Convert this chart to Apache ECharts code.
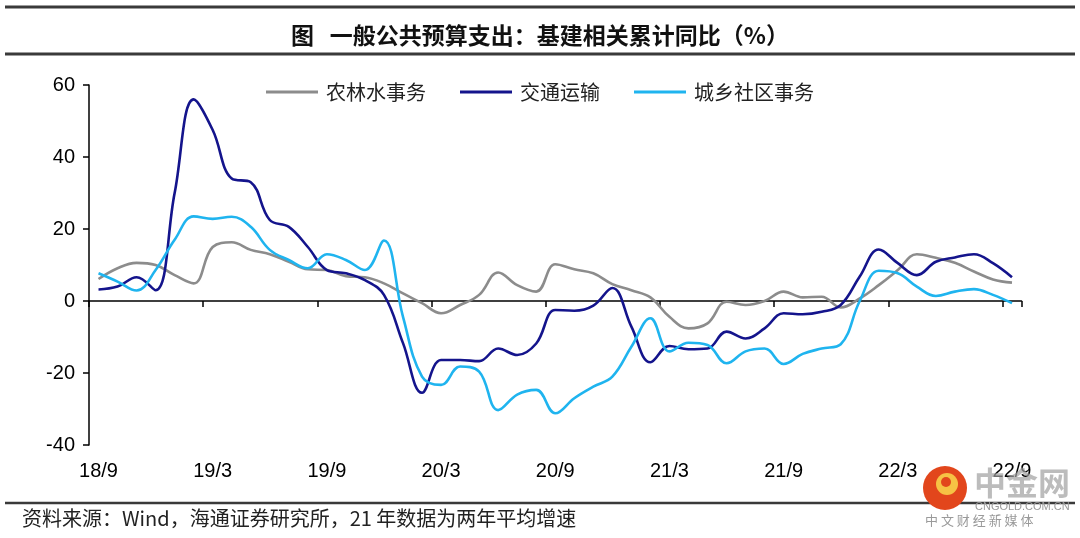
<!DOCTYPE html>
<html>
<head>
<meta charset="utf-8">
<script src="https://cdn.jsdelivr.net/npm/echarts@6/dist/echarts.min.js"></script>
<style>
html,body{margin:0;padding:0;background:#fff;}
#chart{width:1080px;height:538px;}
</style>
</head>
<body>
<div id="chart"></div>
<script>
var categories = ['18/9','18/10','18/11','18/12','19/1','19/2','19/3','19/4','19/5','19/6','19/7','19/8',
  '19/9','19/10','19/11','19/12','20/1','20/2','20/3','20/4','20/5','20/6','20/7','20/8',
  '20/9','20/10','20/11','20/12','21/1','21/2','21/3','21/4','21/5','21/6','21/7','21/8',
  '21/9','21/10','21/11','21/12','22/1','22/2','22/3','22/4','22/5','22/6','22/7','22/8','22/9'];

var agriculture = [6.1, 9.1, 10.6, 10, 7.2, 4.9, 15, 16.3, 14.2, 13, 10.9, 8.8,
  8.6, 6.9, 6.6, 4.9, 2.1, -0.6, -3.4, -1.1, 1.7, 7.9, 4.4, 2.6,
  10.2, 8.8, 7.7, 4.7, 3, 1, -4.4, -7.6, -6.2, -0.2, -1.1, 0,
  2.6, 1, 1.2, -1.8, 0.7, 4.4, 8.6, 13, 12, 10.6, 8.2, 6, 5.1];

var transport = [3.2, 4.0, 6.6, 3.0, 30, 56, 47.5, 34, 33, 22.5, 20.6, 15,
  8.6, 7.7, 5.8, 1.7, -11.7, -25.5, -16.4, -16.4, -16.7, -13.2, -15, -11.8,
  -2.5, -2.7, -1.3, 3.6, -7.1, -17, -12.5, -13.4, -13.2, -8.5, -10.4, -7.6,
  -3.4, -3.7, -3, -1.1, 6.8, 14.3, 10.5, 7.2, 10.9, 12.1, 13, 10.5, 6.6];

var community = [7.7, 5.4, 2.9, 8.6, 17, 23.5, 22.8, 23.4, 20.6, 14.2, 11.4, 9.1,
  13, 11.4, 8.6, 16.8, -4.4, -21, -23.3, -18.2, -19.6, -30.3, -26, -24.7,
  -31.2, -27, -23.8, -21, -12.7, -4.8, -14, -11.6, -12.2, -17.3, -14, -13.2,
  -17.5, -14.7, -13.2, -12, 0, 8.4, 7.7, 4, 1.4, 2.6, 3.3, 1.7, -0.6];

var seriesNames = ['农林水事务', '交通运输', '城乡社区事务'];
var seriesColors = ['#8c8c8c', '#14148c', '#1fb4ef'];
var yTicks = {min: -40, max: 60, interval: 20};

var chart = echarts.init(document.getElementById('chart'), null, {renderer: 'canvas'});
var axisFont = 'Liberation Sans, Arial, sans-serif';
var cjkFont = 'Noto Sans CJK SC, sans-serif';

var option = {
  backgroundColor: '#fff',
  animation: false,
  title: {
    text: '图   一般公共预算支出：基建相关累计同比（%）',
    left: 'center',
    top: 19,
    textStyle: {fontFamily: cjkFont, fontSize: 23, fontWeight: 'bold', color: '#111'}
  },
  legend: {
    data: seriesNames,
    left: 'center',
    top: 77,
    icon: 'rect',
    itemWidth: 52,
    itemHeight: 3,
    itemGap: 34,
    textStyle: {fontFamily: cjkFont, fontSize: 20, color: '#222', padding: [0, 0, 0, 3]}
  },
  grid: {left: 89, right: 58.5, top: 85, bottom: 93, containLabel: false},
  xAxis: [{
    type: 'category',
    data: categories,
    position: 'bottom',
    boundaryGap: true,
    axisLine: {show: false, onZero: false},
    axisTick: {show: false},
    axisLabel: {interval: 5, margin: 16, fontFamily: axisFont, fontSize: 20, color: '#000'},
    splitLine: {show: false}
  }, {
    type: 'category',
    data: categories,
    position: 'bottom',
    boundaryGap: true,
    axisLine: {show: true, onZero: true, lineStyle: {color: '#000', width: 1.5}},
    axisTick: {show: true, interval: 5, length: 6, inside: false, lineStyle: {color: '#000', width: 1.5}},
    axisLabel: {show: false},
    splitLine: {show: false}
  }],
  yAxis: {
    type: 'value',
    min: yTicks.min,
    max: yTicks.max,
    interval: yTicks.interval,
    axisLine: {show: true, lineStyle: {color: '#000', width: 1.5}},
    axisTick: {show: true, length: 6, inside: false, lineStyle: {color: '#000', width: 1.5}},
    axisLabel: {margin: 14, fontFamily: axisFont, fontSize: 20, color: '#000'},
    splitLine: {show: false}
  },
  series: [
    {name: seriesNames[0], type: 'line', data: agriculture, smooth: 0.4, symbol: 'none',
      lineStyle: {width: 2.6, color: seriesColors[0]}, itemStyle: {color: seriesColors[0]}, z: 3},
    {name: seriesNames[1], type: 'line', data: transport, smooth: 0.4, symbol: 'none',
      lineStyle: {width: 2.6, color: seriesColors[1]}, itemStyle: {color: seriesColors[1]}, z: 4},
    {name: seriesNames[2], type: 'line', data: community, smooth: 0.4, symbol: 'none',
      lineStyle: {width: 2.6, color: seriesColors[2]}, itemStyle: {color: seriesColors[2]}, z: 5}
  ],
  graphic: [
    {type: 'line', shape: {x1: 5, y1: 7, x2: 1075, y2: 7}, style: {stroke: '#3a3a3a', lineWidth: 3}},
    {type: 'line', shape: {x1: 5, y1: 54, x2: 1075, y2: 54}, style: {stroke: '#3a3a3a', lineWidth: 3}},
    {type: 'line', shape: {x1: 5, y1: 503, x2: 1075, y2: 503}, style: {stroke: '#3a3a3a', lineWidth: 2.5}},
    {type: 'text', left: 22, top: 508,
      style: {text: '资料来源：Wind，海通证券研究所，21 年数据为两年平均增速', fontFamily: cjkFont, fontSize: 20, fill: '#222'}},
    {type: 'circle', shape: {cx: 945, cy: 488, r: 22}, style: {fill: '#e2461c'}, z: 10},
    {type: 'circle', shape: {cx: 947, cy: 484, r: 11}, style: {fill: '#f6c244'}, z: 11},
    {type: 'circle', shape: {cx: 946, cy: 482, r: 5}, style: {fill: '#e2461c'}, z: 12},
    {type: 'text', left: 974, top: 467, z: 10,
      style: {text: '中金网', fontFamily: cjkFont, fontSize: 32, fontWeight: 'bold', fill: 'rgba(160,160,160,0.7)'}},
    {type: 'text', left: 975, top: 501, z: 10,
      style: {text: 'CNGOLD.COM.CN', fontFamily: axisFont, fontSize: 11, fill: '#9a9a9a'}},
    {type: 'text', left: 925, top: 514, z: 10,
      style: {text: '中 文 财 经 新 媒 体', fontFamily: cjkFont, fontSize: 13, fill: '#9a9a9a'}}
  ]
};
chart.setOption(option);
</script>
</body>
</html>
